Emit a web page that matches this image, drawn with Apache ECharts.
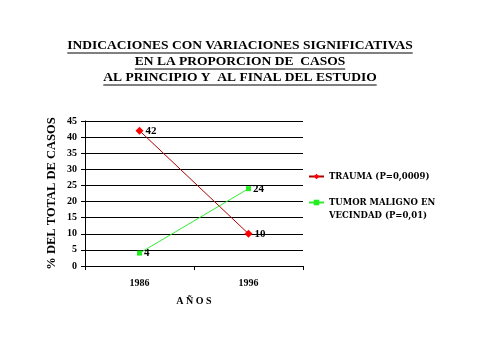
<!DOCTYPE html>
<html><head><meta charset="utf-8">
<script src="https://cdn.jsdelivr.net/npm/echarts@6/dist/echarts.min.js"></script>
<style>html,body{margin:0;padding:0;background:#fff}#c{width:480px;height:360px}</style>
</head><body><div id="c"></div>
<script>
const categories = ['1986', '1996'];
const trauma = [42, 10];
const tumor = [4, 24];
const yTicks = [0, 45, 5];
const seriesNames = ['TRAUMA (P=0,0009)', 'TUMOR MALIGNO EN\nVECINDAD (P=0,01)'];
const titleLines = ['INDICACIONES CON VARIACIONES SIGNIFICATIVAS', 'EN LA PROPORCION DE  CASOS', 'AL PRINCIPIO Y  AL FINAL DEL ESTUDIO'];

const serif = '"Liberation Serif","Times New Roman",serif';
const titleFontSize = 13.5, titleLH = 16, titleTop = 38;
const ctx = document.createElement('canvas').getContext('2d');
ctx.font = 'bold ' + titleFontSize + 'px ' + serif;
const underlines = titleLines.map((t, i) => {
  const w = ctx.measureText(t).width;
  const y = titleTop + i * titleLH + 15;
  return { type: 'line', silent: true, shape: { x1: 240 - w / 2, y1: y, x2: 240 + w / 2, y2: y }, style: { stroke: '#000', lineWidth: 1 } };
});

const legendText = { fontFamily: '"DejaVu Serif",serif', fontWeight: 'bold', fontSize: 8.5, color: '#000' };
const chart = echarts.init(document.getElementById('c'));
chart.setOption({
  animation: false,
  backgroundColor: '#fff',
  title: {
    text: titleLines.join('\n'),
    left: 'center', top: titleTop, padding: 0,
    textStyle: { fontFamily: serif, fontWeight: 'bold', fontSize: titleFontSize, color: '#000', lineHeight: titleLH }
  },
  graphic: underlines,
  legend: [
    {
      orient: 'vertical', left: 308, top: 170, padding: 0,
      itemWidth: 15, itemHeight: 7,
      data: [seriesNames[0]],
      textStyle: Object.assign({ lineHeight: 13 }, legendText)
    },
    {
      orient: 'vertical', left: 308, top: 183, padding: 0,
      itemWidth: 15, itemHeight: 7,
      data: [seriesNames[1]],
      formatter: name => '\n' + name,
      textStyle: Object.assign({ lineHeight: 13 }, legendText)
    }
  ],
  grid: { left: 85, right: 177, top: 121, bottom: 94 },
  xAxis: {
    type: 'category', data: categories, boundaryGap: true,
    name: 'A Ñ O S', nameLocation: 'middle', nameGap: 30,
    nameTextStyle: { fontFamily: serif, fontWeight: 'bold', fontSize: 10, color: '#000' },
    axisLine: { lineStyle: { color: '#000' } },
    axisTick: { show: true, length: 4, lineStyle: { color: '#000' } },
    axisLabel: { margin: 12, fontFamily: serif, fontWeight: 'bold', fontSize: 10, color: '#000' }
  },
  yAxis: {
    type: 'value', min: yTicks[0], max: yTicks[1], interval: yTicks[2],
    name: '% DEL TOTAL DE CASOS', nameLocation: 'middle', nameGap: 27, nameRotate: 90,
    nameTextStyle: { fontFamily: serif, fontWeight: 'bold', fontSize: 12.5, color: '#000' },
    axisLine: { show: true, lineStyle: { color: '#000' } },
    axisTick: { show: true, length: 4, lineStyle: { color: '#000' } },
    axisLabel: { margin: 8, fontFamily: serif, fontWeight: 'bold', fontSize: 10, color: '#000' },
    splitLine: { show: true, lineStyle: { color: '#000', width: 1 } }
  },
  series: [
    {
      name: seriesNames[0], type: 'line', data: trauma,
      symbol: 'diamond', symbolSize: 8,
      lineStyle: { color: '#b00000', width: 1 },
      itemStyle: { color: '#ff0000' },
      label: { show: true, position: 'right', distance: 2, fontFamily: serif, fontWeight: 'bold', fontSize: 11, color: '#000' }
    },
    {
      name: seriesNames[1], type: 'line', data: tumor,
      symbol: 'rect', symbolSize: 5,
      lineStyle: { color: '#33ee33', width: 1 },
      itemStyle: { color: '#22ee22' },
      label: { show: true, position: 'right', distance: 2, fontFamily: serif, fontWeight: 'bold', fontSize: 11, color: '#000' }
    }
  ]
});
</script></body></html>
